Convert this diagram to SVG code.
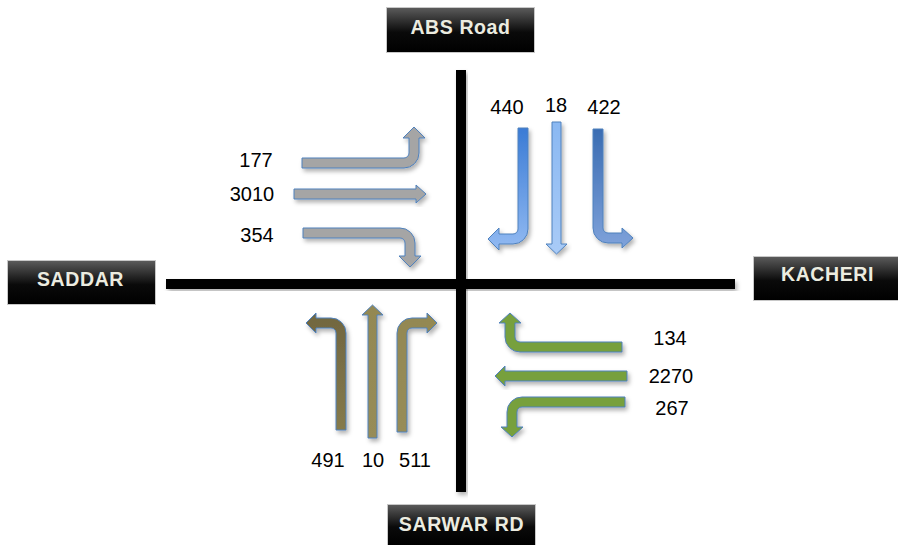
<svg xmlns="http://www.w3.org/2000/svg" width="898" height="545" viewBox="0 0 898 545">
  <defs>
    <filter id="shadow" x="-20%" y="-20%" width="140%" height="140%">
      <feDropShadow dx="2" dy="3" stdDeviation="2.2" flood-color="#000" flood-opacity="0.3"/>
    </filter>
    <linearGradient id="boxFill" x1="0" y1="0" x2="0" y2="1">
      <stop offset="0" stop-color="#5c5c5c"/>
      <stop offset="0.55" stop-color="#0a0a0a"/>
      <stop offset="1" stop-color="#000"/>
    </linearGradient>
    <linearGradient id="blueA" x1="0" y1="0" x2="0" y2="1">
      <stop offset="0" stop-color="#3a7bd5"/>
      <stop offset="1" stop-color="#92baf2"/>
    </linearGradient>
    <linearGradient id="blueB" x1="0" y1="0" x2="0" y2="1">
      <stop offset="0" stop-color="#8ab8f2"/>
      <stop offset="1" stop-color="#a9cbf7"/>
    </linearGradient>
    <linearGradient id="blueC" x1="0" y1="0" x2="0" y2="1">
      <stop offset="0" stop-color="#3a6cb2"/>
      <stop offset="1" stop-color="#7fa2da"/>
    </linearGradient>
    <linearGradient id="oliveA" x1="0" y1="1" x2="0" y2="0">
      <stop offset="0" stop-color="#857a4c"/>
      <stop offset="1" stop-color="#716640"/>
    </linearGradient>
    <linearGradient id="oliveB" x1="0" y1="1" x2="0" y2="0">
      <stop offset="0" stop-color="#978c58"/>
      <stop offset="1" stop-color="#938852"/>
    </linearGradient>
  </defs>
  <style>
    .road { fill: #000; filter: url(#shadow); }
    .box { fill: url(#boxFill); stroke: #c8c8c8; stroke-width: 1; }
    .boxText { font-family: "Liberation Sans", Arial, sans-serif; font-weight: bold; font-size: 19.5px; letter-spacing: 0.6px; fill: #ecece0; text-anchor: middle; }
    .arrow { stroke: #4f81bd; stroke-width: 1; stroke-linejoin: miter; filter: url(#shadow); }
    .grey { fill: #a5a5a5; }
    .green { fill: #77a03e; }
    .num { font-family: "Liberation Sans", Arial, sans-serif; font-size: 20px; fill: #000; text-anchor: middle; }
  </style>

  <!-- crossroads -->
  <g id="roads">
    <rect class="road" x="166" y="279" width="569" height="10"/>
    <rect class="road" x="456" y="70" width="10" height="422"/>
  </g>

  <!-- road name plates -->
  <g id="abs-road">
    <rect class="box" x="386.5" y="7.5" width="148" height="45"/>
    <text class="boxText" x="460.5" y="33.5">ABS Road</text>
  </g>
  <g id="saddar">
    <rect class="box" x="7.5" y="260.5" width="148" height="44"/>
    <text class="boxText" x="80.5" y="286">SADDAR</text>
  </g>
  <g id="kacheri">
    <rect class="box" x="753.5" y="256.5" width="145" height="44"/>
    <text class="boxText" x="827.5" y="281">KACHERI</text>
  </g>
  <g id="sarwar-rd">
    <rect class="box" x="387.5" y="504.5" width="148" height="41"/>
    <text class="boxText" x="461.5" y="531">SARWAR RD</text>
  </g>

  <!-- turning movements -->
  <g id="connectors">
    <!-- from SADDAR -->
    <path class="arrow grey" d="M302,158 L404,158 A5,5 0 0 0 409,153 L409,138 L403,138 L414,127 L425,138 L419,138 L419,153 A15,15 0 0 1 404,168 L302,168 Z"/>
    <path class="arrow grey" d="M294,189 L416,189 L416,185 L426,194 L416,203 L416,199 L294,199 Z"/>
    <path class="arrow grey" d="M303,228 L400,228 A15,15 0 0 1 415,243 L415,256 L421,256 L410,267 L399,256 L405,256 L405,243 A5,5 0 0 0 400,238 L303,238 Z"/>

    <!-- from ABS Road -->
    <path class="arrow" fill="url(#blueA)" d="M518,128 L528,128 L528,229 A15,15 0 0 1 513,244 L499,244 L499,250 L488,239 L499,228 L499,234 L513,234 A5,5 0 0 0 518,229 Z"/>
    <path class="arrow" fill="url(#blueB)" d="M552,122 L561,122 L561,244 L567,244 L556.5,254 L546,244 L552,244 Z"/>
    <path class="arrow" fill="url(#blueC)" d="M593,129 L603,129 L603,228 A5,5 0 0 0 608,233 L622,233 L622,228 L633,238 L622,248 L622,243 L608,243 A15,15 0 0 1 593,228 Z"/>

    <!-- from SARWAR RD -->
    <path class="arrow" fill="url(#oliveA)" d="M346,430 L336,430 L336,333 A5,5 0 0 0 331,328 L316,328 L316,333 L306,323 L316,313 L316,318 L331,318 A15,15 0 0 1 346,333 Z"/>
    <path class="arrow" fill="url(#oliveB)" d="M368,438 L368,315 L362,315 L372.5,305 L383,315 L377,315 L377,438 Z"/>
    <path class="arrow" fill="url(#oliveB)" d="M397,432 L397,333 A15,15 0 0 1 412,318 L427,318 L427,313 L437,323 L427,333 L427,328 L412,328 A5,5 0 0 0 407,333 L407,432 Z"/>

    <!-- from KACHERI -->
    <path class="arrow green" d="M622,342 L520,342 A5,5 0 0 1 515,337 L515,323 L521,323 L510,313 L499,323 L505,323 L505,337 A15,15 0 0 0 520,352 L622,352 Z"/>
    <path class="arrow green" d="M627,371 L505,371 L505,366 L495,376 L505,386 L505,381 L627,381 Z"/>
    <path class="arrow green" d="M625,397 L522,397 A15,15 0 0 0 507,412 L507,427 L501,427 L512,437 L523,427 L517,427 L517,412 A5,5 0 0 1 522,407 L625,407 Z"/>
  </g>

  <!-- traffic counts -->
  <g id="counts">
    <text class="num" x="256" y="167">177</text>
    <text class="num" x="252" y="201">3010</text>
    <text class="num" x="257" y="242">354</text>
    <text class="num" x="507" y="114">440</text>
    <text class="num" x="556" y="112">18</text>
    <text class="num" x="604" y="114">422</text>
    <text class="num" x="328" y="467">491</text>
    <text class="num" x="373" y="467">10</text>
    <text class="num" x="415" y="467">511</text>
    <text class="num" x="670" y="345">134</text>
    <text class="num" x="671" y="383">2270</text>
    <text class="num" x="672" y="415">267</text>
  </g>
</svg>
